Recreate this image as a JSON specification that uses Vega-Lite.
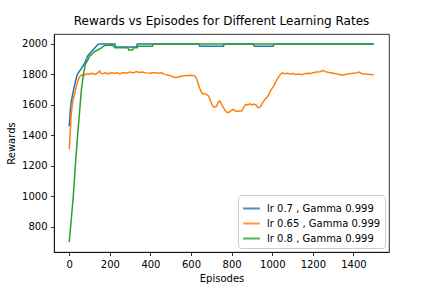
{
  "$schema": "https://vega.github.io/schema/vega-lite/v6.json",
  "width": 335,
  "height": 218,
  "autosize": {"type": "none"},
  "padding": {"left": 54, "top": 34, "right": 43, "bottom": 36},
  "background": "white",
  "title": {"text": "Rewards vs Episodes for Different Learning Rates", "fontSize": 12, "fontWeight": "normal", "font": "DejaVu Sans", "color": "black", "offset": 6},
  "config": {
    "view": {"stroke": "black", "strokeWidth": 0.8},
    "axis": {"grid": false, "domainColor": "black", "domainWidth": 0.8, "tickColor": "black", "tickWidth": 0.8, "tickSize": 3.5, "labelPadding": 3.5, "labelFont": "DejaVu Sans", "labelFontSize": 10, "labelColor": "black", "titleFont": "DejaVu Sans", "titleFontSize": 10, "titleFontWeight": "normal", "titleColor": "black", "format": "d"}
  },
  "data": {"values": [
    {"s": "lr 0.7 , Gamma 0.999", "e": 0, "r": 1460},
    {"s": "lr 0.7 , Gamma 0.999", "e": 5, "r": 1560},
    {"s": "lr 0.7 , Gamma 0.999", "e": 10, "r": 1620},
    {"s": "lr 0.7 , Gamma 0.999", "e": 20, "r": 1690},
    {"s": "lr 0.7 , Gamma 0.999", "e": 30, "r": 1750},
    {"s": "lr 0.7 , Gamma 0.999", "e": 40, "r": 1800},
    {"s": "lr 0.7 , Gamma 0.999", "e": 50, "r": 1820},
    {"s": "lr 0.7 , Gamma 0.999", "e": 60, "r": 1840},
    {"s": "lr 0.7 , Gamma 0.999", "e": 70, "r": 1860},
    {"s": "lr 0.7 , Gamma 0.999", "e": 80, "r": 1885},
    {"s": "lr 0.7 , Gamma 0.999", "e": 90, "r": 1920},
    {"s": "lr 0.7 , Gamma 0.999", "e": 100, "r": 1935},
    {"s": "lr 0.7 , Gamma 0.999", "e": 110, "r": 1950},
    {"s": "lr 0.7 , Gamma 0.999", "e": 120, "r": 1965},
    {"s": "lr 0.7 , Gamma 0.999", "e": 130, "r": 1980},
    {"s": "lr 0.7 , Gamma 0.999", "e": 140, "r": 1995},
    {"s": "lr 0.7 , Gamma 0.999", "e": 150, "r": 2000},
    {"s": "lr 0.7 , Gamma 0.999", "e": 225, "r": 2000},
    {"s": "lr 0.7 , Gamma 0.999", "e": 228, "r": 1980},
    {"s": "lr 0.7 , Gamma 0.999", "e": 332, "r": 1980},
    {"s": "lr 0.7 , Gamma 0.999", "e": 335, "r": 2000},
    {"s": "lr 0.7 , Gamma 0.999", "e": 640, "r": 2000},
    {"s": "lr 0.7 , Gamma 0.999", "e": 643, "r": 1985},
    {"s": "lr 0.7 , Gamma 0.999", "e": 760, "r": 1985},
    {"s": "lr 0.7 , Gamma 0.999", "e": 763, "r": 2000},
    {"s": "lr 0.7 , Gamma 0.999", "e": 908, "r": 2000},
    {"s": "lr 0.7 , Gamma 0.999", "e": 911, "r": 1985},
    {"s": "lr 0.7 , Gamma 0.999", "e": 1005, "r": 1985},
    {"s": "lr 0.7 , Gamma 0.999", "e": 1008, "r": 2000},
    {"s": "lr 0.7 , Gamma 0.999", "e": 1500, "r": 2000},
    {"s": "lr 0.65 , Gamma 0.999", "e": 0, "r": 1310},
    {"s": "lr 0.65 , Gamma 0.999", "e": 5, "r": 1420},
    {"s": "lr 0.65 , Gamma 0.999", "e": 10, "r": 1540},
    {"s": "lr 0.65 , Gamma 0.999", "e": 15, "r": 1600},
    {"s": "lr 0.65 , Gamma 0.999", "e": 20, "r": 1640},
    {"s": "lr 0.65 , Gamma 0.999", "e": 25, "r": 1665},
    {"s": "lr 0.65 , Gamma 0.999", "e": 30, "r": 1690},
    {"s": "lr 0.65 , Gamma 0.999", "e": 35, "r": 1720},
    {"s": "lr 0.65 , Gamma 0.999", "e": 40, "r": 1745},
    {"s": "lr 0.65 , Gamma 0.999", "e": 45, "r": 1765},
    {"s": "lr 0.65 , Gamma 0.999", "e": 50, "r": 1780},
    {"s": "lr 0.65 , Gamma 0.999", "e": 55, "r": 1790},
    {"s": "lr 0.65 , Gamma 0.999", "e": 60, "r": 1797},
    {"s": "lr 0.65 , Gamma 0.999", "e": 65, "r": 1793},
    {"s": "lr 0.65 , Gamma 0.999", "e": 70, "r": 1800},
    {"s": "lr 0.65 , Gamma 0.999", "e": 80, "r": 1798},
    {"s": "lr 0.65 , Gamma 0.999", "e": 90, "r": 1805},
    {"s": "lr 0.65 , Gamma 0.999", "e": 100, "r": 1800},
    {"s": "lr 0.65 , Gamma 0.999", "e": 110, "r": 1808},
    {"s": "lr 0.65 , Gamma 0.999", "e": 120, "r": 1803},
    {"s": "lr 0.65 , Gamma 0.999", "e": 130, "r": 1800},
    {"s": "lr 0.65 , Gamma 0.999", "e": 140, "r": 1812},
    {"s": "lr 0.65 , Gamma 0.999", "e": 150, "r": 1822},
    {"s": "lr 0.65 , Gamma 0.999", "e": 155, "r": 1808},
    {"s": "lr 0.65 , Gamma 0.999", "e": 165, "r": 1805},
    {"s": "lr 0.65 , Gamma 0.999", "e": 180, "r": 1810},
    {"s": "lr 0.65 , Gamma 0.999", "e": 190, "r": 1803},
    {"s": "lr 0.65 , Gamma 0.999", "e": 200, "r": 1808},
    {"s": "lr 0.65 , Gamma 0.999", "e": 210, "r": 1812},
    {"s": "lr 0.65 , Gamma 0.999", "e": 220, "r": 1806},
    {"s": "lr 0.65 , Gamma 0.999", "e": 235, "r": 1810},
    {"s": "lr 0.65 , Gamma 0.999", "e": 250, "r": 1805},
    {"s": "lr 0.65 , Gamma 0.999", "e": 265, "r": 1812},
    {"s": "lr 0.65 , Gamma 0.999", "e": 280, "r": 1808},
    {"s": "lr 0.65 , Gamma 0.999", "e": 300, "r": 1815},
    {"s": "lr 0.65 , Gamma 0.999", "e": 315, "r": 1810},
    {"s": "lr 0.65 , Gamma 0.999", "e": 330, "r": 1818},
    {"s": "lr 0.65 , Gamma 0.999", "e": 345, "r": 1812},
    {"s": "lr 0.65 , Gamma 0.999", "e": 360, "r": 1815},
    {"s": "lr 0.65 , Gamma 0.999", "e": 380, "r": 1810},
    {"s": "lr 0.65 , Gamma 0.999", "e": 400, "r": 1808},
    {"s": "lr 0.65 , Gamma 0.999", "e": 420, "r": 1812},
    {"s": "lr 0.65 , Gamma 0.999", "e": 440, "r": 1808},
    {"s": "lr 0.65 , Gamma 0.999", "e": 455, "r": 1810},
    {"s": "lr 0.65 , Gamma 0.999", "e": 470, "r": 1800},
    {"s": "lr 0.65 , Gamma 0.999", "e": 490, "r": 1795},
    {"s": "lr 0.65 , Gamma 0.999", "e": 510, "r": 1785},
    {"s": "lr 0.65 , Gamma 0.999", "e": 525, "r": 1778},
    {"s": "lr 0.65 , Gamma 0.999", "e": 540, "r": 1785},
    {"s": "lr 0.65 , Gamma 0.999", "e": 560, "r": 1790},
    {"s": "lr 0.65 , Gamma 0.999", "e": 580, "r": 1792},
    {"s": "lr 0.65 , Gamma 0.999", "e": 600, "r": 1794},
    {"s": "lr 0.65 , Gamma 0.999", "e": 615, "r": 1792},
    {"s": "lr 0.65 , Gamma 0.999", "e": 625, "r": 1780},
    {"s": "lr 0.65 , Gamma 0.999", "e": 635, "r": 1740},
    {"s": "lr 0.65 , Gamma 0.999", "e": 645, "r": 1700},
    {"s": "lr 0.65 , Gamma 0.999", "e": 655, "r": 1675},
    {"s": "lr 0.65 , Gamma 0.999", "e": 670, "r": 1672},
    {"s": "lr 0.65 , Gamma 0.999", "e": 685, "r": 1660},
    {"s": "lr 0.65 , Gamma 0.999", "e": 695, "r": 1630},
    {"s": "lr 0.65 , Gamma 0.999", "e": 705, "r": 1595},
    {"s": "lr 0.65 , Gamma 0.999", "e": 715, "r": 1585},
    {"s": "lr 0.65 , Gamma 0.999", "e": 725, "r": 1590},
    {"s": "lr 0.65 , Gamma 0.999", "e": 735, "r": 1620},
    {"s": "lr 0.65 , Gamma 0.999", "e": 742, "r": 1625},
    {"s": "lr 0.65 , Gamma 0.999", "e": 750, "r": 1605},
    {"s": "lr 0.65 , Gamma 0.999", "e": 760, "r": 1580},
    {"s": "lr 0.65 , Gamma 0.999", "e": 770, "r": 1560},
    {"s": "lr 0.65 , Gamma 0.999", "e": 780, "r": 1548},
    {"s": "lr 0.65 , Gamma 0.999", "e": 790, "r": 1555},
    {"s": "lr 0.65 , Gamma 0.999", "e": 800, "r": 1565},
    {"s": "lr 0.65 , Gamma 0.999", "e": 810, "r": 1570},
    {"s": "lr 0.65 , Gamma 0.999", "e": 818, "r": 1560},
    {"s": "lr 0.65 , Gamma 0.999", "e": 828, "r": 1558},
    {"s": "lr 0.65 , Gamma 0.999", "e": 840, "r": 1560},
    {"s": "lr 0.65 , Gamma 0.999", "e": 850, "r": 1560},
    {"s": "lr 0.65 , Gamma 0.999", "e": 860, "r": 1585},
    {"s": "lr 0.65 , Gamma 0.999", "e": 870, "r": 1603},
    {"s": "lr 0.65 , Gamma 0.999", "e": 880, "r": 1600},
    {"s": "lr 0.65 , Gamma 0.999", "e": 890, "r": 1607},
    {"s": "lr 0.65 , Gamma 0.999", "e": 900, "r": 1600},
    {"s": "lr 0.65 , Gamma 0.999", "e": 910, "r": 1605},
    {"s": "lr 0.65 , Gamma 0.999", "e": 920, "r": 1598},
    {"s": "lr 0.65 , Gamma 0.999", "e": 930, "r": 1582},
    {"s": "lr 0.65 , Gamma 0.999", "e": 940, "r": 1585},
    {"s": "lr 0.65 , Gamma 0.999", "e": 950, "r": 1610},
    {"s": "lr 0.65 , Gamma 0.999", "e": 960, "r": 1628},
    {"s": "lr 0.65 , Gamma 0.999", "e": 970, "r": 1645},
    {"s": "lr 0.65 , Gamma 0.999", "e": 980, "r": 1660},
    {"s": "lr 0.65 , Gamma 0.999", "e": 990, "r": 1690},
    {"s": "lr 0.65 , Gamma 0.999", "e": 1000, "r": 1710},
    {"s": "lr 0.65 , Gamma 0.999", "e": 1010, "r": 1730},
    {"s": "lr 0.65 , Gamma 0.999", "e": 1020, "r": 1760},
    {"s": "lr 0.65 , Gamma 0.999", "e": 1030, "r": 1780},
    {"s": "lr 0.65 , Gamma 0.999", "e": 1040, "r": 1800},
    {"s": "lr 0.65 , Gamma 0.999", "e": 1050, "r": 1810},
    {"s": "lr 0.65 , Gamma 0.999", "e": 1060, "r": 1805},
    {"s": "lr 0.65 , Gamma 0.999", "e": 1075, "r": 1808},
    {"s": "lr 0.65 , Gamma 0.999", "e": 1090, "r": 1802},
    {"s": "lr 0.65 , Gamma 0.999", "e": 1100, "r": 1805},
    {"s": "lr 0.65 , Gamma 0.999", "e": 1115, "r": 1800},
    {"s": "lr 0.65 , Gamma 0.999", "e": 1130, "r": 1803},
    {"s": "lr 0.65 , Gamma 0.999", "e": 1145, "r": 1798},
    {"s": "lr 0.65 , Gamma 0.999", "e": 1160, "r": 1805},
    {"s": "lr 0.65 , Gamma 0.999", "e": 1175, "r": 1808},
    {"s": "lr 0.65 , Gamma 0.999", "e": 1190, "r": 1806},
    {"s": "lr 0.65 , Gamma 0.999", "e": 1205, "r": 1812},
    {"s": "lr 0.65 , Gamma 0.999", "e": 1220, "r": 1815},
    {"s": "lr 0.65 , Gamma 0.999", "e": 1235, "r": 1818},
    {"s": "lr 0.65 , Gamma 0.999", "e": 1250, "r": 1825},
    {"s": "lr 0.65 , Gamma 0.999", "e": 1262, "r": 1818},
    {"s": "lr 0.65 , Gamma 0.999", "e": 1280, "r": 1812},
    {"s": "lr 0.65 , Gamma 0.999", "e": 1300, "r": 1808},
    {"s": "lr 0.65 , Gamma 0.999", "e": 1315, "r": 1805},
    {"s": "lr 0.65 , Gamma 0.999", "e": 1330, "r": 1800},
    {"s": "lr 0.65 , Gamma 0.999", "e": 1345, "r": 1795},
    {"s": "lr 0.65 , Gamma 0.999", "e": 1360, "r": 1800},
    {"s": "lr 0.65 , Gamma 0.999", "e": 1380, "r": 1805},
    {"s": "lr 0.65 , Gamma 0.999", "e": 1400, "r": 1808},
    {"s": "lr 0.65 , Gamma 0.999", "e": 1415, "r": 1810},
    {"s": "lr 0.65 , Gamma 0.999", "e": 1425, "r": 1815},
    {"s": "lr 0.65 , Gamma 0.999", "e": 1440, "r": 1806},
    {"s": "lr 0.65 , Gamma 0.999", "e": 1460, "r": 1802},
    {"s": "lr 0.65 , Gamma 0.999", "e": 1480, "r": 1800},
    {"s": "lr 0.65 , Gamma 0.999", "e": 1500, "r": 1797},
    {"s": "lr 0.8 , Gamma 0.999", "e": 0, "r": 700},
    {"s": "lr 0.8 , Gamma 0.999", "e": 10, "r": 850},
    {"s": "lr 0.8 , Gamma 0.999", "e": 20, "r": 1000},
    {"s": "lr 0.8 , Gamma 0.999", "e": 30, "r": 1200},
    {"s": "lr 0.8 , Gamma 0.999", "e": 40, "r": 1380},
    {"s": "lr 0.8 , Gamma 0.999", "e": 50, "r": 1540},
    {"s": "lr 0.8 , Gamma 0.999", "e": 60, "r": 1700},
    {"s": "lr 0.8 , Gamma 0.999", "e": 70, "r": 1800},
    {"s": "lr 0.8 , Gamma 0.999", "e": 80, "r": 1870},
    {"s": "lr 0.8 , Gamma 0.999", "e": 90, "r": 1890},
    {"s": "lr 0.8 , Gamma 0.999", "e": 100, "r": 1920},
    {"s": "lr 0.8 , Gamma 0.999", "e": 110, "r": 1930},
    {"s": "lr 0.8 , Gamma 0.999", "e": 125, "r": 1950},
    {"s": "lr 0.8 , Gamma 0.999", "e": 140, "r": 1960},
    {"s": "lr 0.8 , Gamma 0.999", "e": 160, "r": 1975},
    {"s": "lr 0.8 , Gamma 0.999", "e": 175, "r": 1990},
    {"s": "lr 0.8 , Gamma 0.999", "e": 212, "r": 1993},
    {"s": "lr 0.8 , Gamma 0.999", "e": 225, "r": 1975},
    {"s": "lr 0.8 , Gamma 0.999", "e": 290, "r": 1975},
    {"s": "lr 0.8 , Gamma 0.999", "e": 293, "r": 1960},
    {"s": "lr 0.8 , Gamma 0.999", "e": 312, "r": 1960},
    {"s": "lr 0.8 , Gamma 0.999", "e": 315, "r": 1975},
    {"s": "lr 0.8 , Gamma 0.999", "e": 335, "r": 1975},
    {"s": "lr 0.8 , Gamma 0.999", "e": 338, "r": 1985},
    {"s": "lr 0.8 , Gamma 0.999", "e": 410, "r": 1985},
    {"s": "lr 0.8 , Gamma 0.999", "e": 414, "r": 2000},
    {"s": "lr 0.8 , Gamma 0.999", "e": 1500, "r": 2000}
  ]},
  "mark": {"type": "line", "strokeWidth": 1.5, "clip": true},
  "encoding": {
    "x": {"field": "e", "type": "quantitative", "title": "Episodes",
      "scale": {"domain": [-75, 1575], "nice": false, "zero": false},
      "axis": {"values": [0, 200, 400, 600, 800, 1000, 1200, 1400], "titlePadding": 4}},
    "y": {"field": "r", "type": "quantitative", "title": "Rewards",
      "scale": {"domain": [635, 2065], "nice": false, "zero": false},
      "axis": {"values": [800, 1000, 1200, 1400, 1600, 1800, 2000], "titlePadding": 5}},
    "color": {"field": "s", "type": "nominal",
      "scale": {"domain": ["lr 0.7 , Gamma 0.999", "lr 0.65 , Gamma 0.999", "lr 0.8 , Gamma 0.999"], "range": ["#1f77b4", "#ff7f0e", "#2ca02c"]},
      "legend": {"title": null, "orient": "bottom-right", "offset": 4, "symbolType": "stroke", "symbolSize": 280, "symbolStrokeWidth": 2, "symbolOpacity": 0.8, "labelFont": "DejaVu Sans", "labelFontSize": 10, "labelColor": "black", "labelOffset": 6, "rowPadding": 0, "padding": 4, "strokeColor": "#cccccc", "fillColor": "white", "cornerRadius": 3, "labelLimit": 200}},
    "order": {"field": "e", "type": "quantitative"}
  }
}
